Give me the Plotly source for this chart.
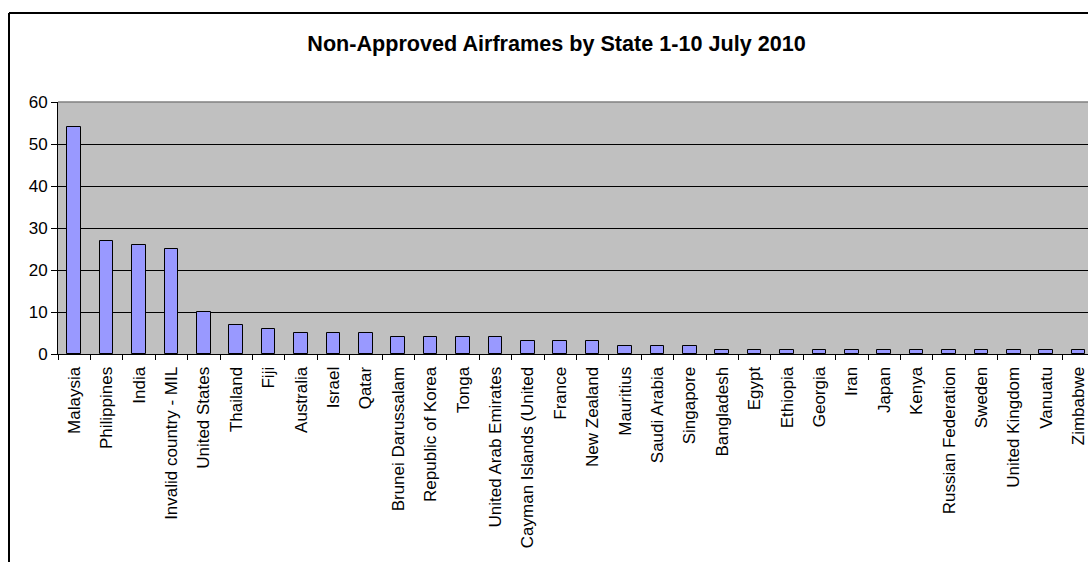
import plotly.graph_objects as go

countries = ["Malaysia", "Philippines", "India", "Invalid country - MIL", "United States",
             "Thailand", "Fiji", "Australia", "Israel", "Qatar", "Brunei Darussalam",
             "Republic of Korea", "Tonga", "United Arab Emirates", "Cayman Islands (United",
             "France", "New Zealand", "Mauritius", "Saudi Arabia", "Singapore", "Bangladesh",
             "Egypt", "Ethiopia", "Georgia", "Iran", "Japan", "Kenya", "Russian Federation",
             "Sweden", "United Kingdom", "Vanuatu", "Zimbabwe"]
counts = [54, 27, 26, 25, 10, 7, 6, 5, 5, 5, 4, 4, 4, 4, 3, 3, 3, 2, 2, 2,
          1, 1, 1, 1, 1, 1, 1, 1, 1, 1, 1, 1]
y_ticks = [0, 10, 20, 30, 40, 50, 60]

W, H = 1088, 562
L, T, B = 58, 102, 208
PW = W - L
PH = H - T - B
cat_px = 32.4

n = len(countries)
fig = go.Figure(go.Bar(
    x=list(range(n)), y=counts,
    marker=dict(color="#9999FF", line=dict(color="#000000", width=1)),
    width=0.42,
))

fig.update_layout(
    width=W, height=H,
    margin=dict(l=L, r=0, t=T, b=B, pad=0),
    paper_bgcolor="white", plot_bgcolor="#C0C0C0",
    showlegend=False,
    font=dict(family="Arial, Liberation Sans, sans-serif", size=17, color="black"),
    title=dict(text="<b>Non-Approved Airframes by State 1-10 July 2010</b>",
               x=556.5 / W, xanchor="center", xref="container",
               y=1 - 43 / H, yanchor="middle", yref="container",
               font=dict(size=21.6, color="black")),
    bargap=0,
)

fig.update_xaxes(
    tickmode="array", tickvals=list(range(n)), ticktext=countries,
    tickangle=-90, range=[-0.5, -0.5 + PW / cat_px],
    ticklabeloverflow="allow",
    showline=True, linecolor="black", linewidth=1,
    ticks="outside", ticklen=5, tickcolor="rgba(0,0,0,0)",
    minor=dict(tickmode="array", tickvals=[i - 0.5 for i in range(n + 1)],
               ticks="outside", ticklen=5, tickcolor="black", showgrid=False),
    showgrid=False, zeroline=False, fixedrange=True,
)
fig.update_yaxes(
    range=[0, 60], tickvals=y_ticks,
    showline=True, linecolor="black", linewidth=1,
    ticks="outside", ticklen=6, tickcolor="black",
    showgrid=True, gridcolor="black", gridwidth=1,
    zeroline=False, fixedrange=True,
)

# gray top edge of plot area
fig.add_shape(type="line", xref="paper", yref="paper", x0=0, x1=1, y0=1, y1=1,
              line=dict(color="#808080", width=1.5))
# outer chart border (left and top)
bx = (9 - L) / PW
by = (H - B - 13) / PH
fig.add_shape(type="line", xref="paper", yref="paper", x0=bx, x1=bx, y0=by, y1=-5,
              line=dict(color="black", width=2))
fig.add_shape(type="line", xref="paper", yref="paper", x0=bx, x1=2, y0=by, y1=by,
              line=dict(color="black", width=2))

fig.write_html("out.html")
